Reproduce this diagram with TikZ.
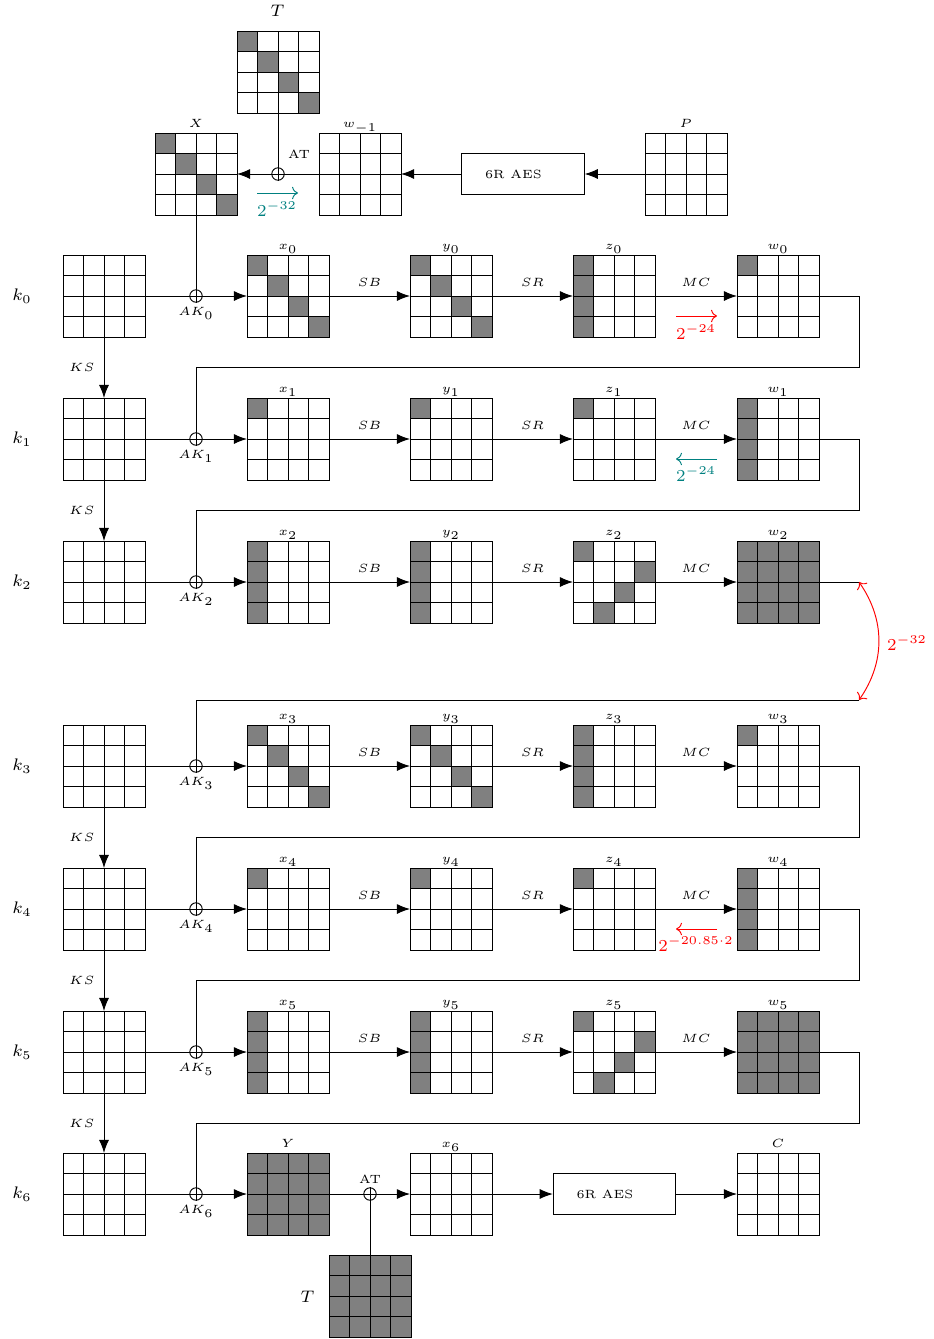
\documentclass[tikz,border=0pt]{standalone}
\usetikzlibrary{arrows.meta,calc}
\makeatletter
\newcommand\stgrid[5]{%
  \node[gridbox] (#1) at (#2,#3) {};
  \def\st@cells{#4}\def\st@full{full}%
  \ifx\st@cells\st@full
    \fill[cellfill] (#1.north west) rectangle (#1.south east);
  \else\ifx\st@cells\@empty\else
    \foreach \cc/\rr in {#4} {\fill[cellfill] (#2-41+20.5*\cc,#3-41+20.5*\rr) rectangle ++(20.5,20.5);}
  \fi\fi
  \foreach \ii in {1,2,3} {\draw[gl] (#2-41+20.5*\ii,#3-41) -- ++(0,82); \draw[gl] (#2-41,#3-41+20.5*\ii) -- ++(82,0);}
  \draw[gl] (#1.north west) rectangle (#1.south east);
  \if\relax\detokenize{#5}\relax\else
    \node[lab,anchor=base] (#1-l) at (#2,#3-46.5) {#5};
  \fi
}
\newcommand\stround[6]{%
  \stgrid{k#1}{104}{#2}{}{}
  \node[klab] (k#1-l) at (22,#2) {$k_{#1}$};
  \stgrid{x#1}{288}{#2}{#3}{$x_{#1}$}
  \stgrid{y#1}{451}{#2}{#4}{$y_{#1}$}
  \stgrid{z#1}{614}{#2}{#5}{$z_{#1}$}
  \stgrid{w#1}{778}{#2}{#6}{$w_{#1}$}
  \node[xorn] (ak#1) at (196,#2) {};
  \node[lab,anchor=base] (ak#1-l) at (196,#2+19.5) {$AK_{#1}$};
  \draw[arr] (k#1.east) -- (x#1.west);
  \draw[arr] (x#1.east) -- node[lab,anchor=base,yshift=3.8pt]{$SB$} (y#1.west);
  \draw[arr] (y#1.east) -- node[lab,anchor=base,yshift=3.8pt]{$SR$} (z#1.west);
  \draw[arr] (z#1.east) -- node[lab,anchor=base,yshift=3.8pt]{$MC$} (w#1.west);
}
\makeatother
\begin{document}
\begin{tikzpicture}[x=0.4184pt,y=-0.4184pt,
  gridbox/.style={rectangle,draw=none,minimum size=34.31pt,inner sep=0pt,outer sep=0pt},
  gl/.style={line width=0.4pt},
  cellfill/.style={fill=black!50},
  lab/.style={font=\tiny,inner sep=0pt},
  klab/.style={font=\scriptsize,inner sep=0pt},
  arr/.style={line width=0.4pt,-{Latex[length=5.5pt,width=4.2pt]}},
  xorn/.style={circle,draw,line width=0.4pt,minimum size=5.2pt,inner sep=0pt},
  aesbox/.style={draw,line width=0.4pt,minimum width=51.2pt,minimum height=16.9pt,inner sep=0pt,font=\tiny},
  prob/.style={font=\scriptsize,inner sep=0pt},
]
\useasboundingbox (0,0) rectangle (933,1339);

% ---------- top part ----------
\stgrid{T0}{278}{72}{0/0,1/1,2/2,3/3}{}
\node[klab] (T0-l) at (277.5,10.5) {$T$};
\stgrid{X}{196}{174}{0/0,1/1,2/2,3/3}{$X$}
\stgrid{wm1}{360}{174}{}{$w_{-1}$}
\stgrid{P}{686}{174}{}{$P$}
\node[aesbox] (aes0) at (523,174) {6R AES\hspace*{8pt}};
\node[xorn] (at0) at (278,174) {};
\node[lab,anchor=base] (at0-l) at (299,158) {AT};
\draw[arr] (P.west) -- (aes0.east);
\draw[arr] (aes0.west) -- (wm1.east);
\draw[arr] (wm1.west) -- (X.east);
\draw[gl] (T0.south) -- (at0.south);
\draw[teal,->] (257,193) -- (298,193);
\node[prob,text=teal] (p0) at (277,209) {$2^{-32}$};

% ---------- rounds ----------
\stround{0}{296}{0/0,1/1,2/2,3/3}{0/0,1/1,2/2,3/3}{0/0,0/1,0/2,0/3}{0/0}
\stround{1}{439}{0/0}{0/0}{0/0}{0/0,0/1,0/2,0/3}
\stround{2}{582}{0/0,0/1,0/2,0/3}{0/0,0/1,0/2,0/3}{0/0,3/1,2/2,1/3}{full}
\stround{3}{766}{0/0,1/1,2/2,3/3}{0/0,1/1,2/2,3/3}{0/0,0/1,0/2,0/3}{0/0}
\stround{4}{909}{0/0}{0/0}{0/0}{0/0,0/1,0/2,0/3}
\stround{5}{1052}{0/0,0/1,0/2,0/3}{0/0,0/1,0/2,0/3}{0/0,3/1,2/2,1/3}{full}

% ---------- last round ----------
\stgrid{k6}{104}{1194}{}{}
\node[klab] (k6-l) at (22,1194) {$k_{6}$};
\node[xorn] (ak6) at (196,1194) {};
\node[lab,anchor=base] (ak6-l) at (196,1213.5) {$AK_{6}$};
\stgrid{Y}{288}{1194}{full}{$Y$}
\node[xorn] (at1) at (370,1194) {};
\node[lab,anchor=base] (at1-l) at (370,1183) {AT};
\stgrid{x6}{451}{1194}{}{$x_6$}
\node[aesbox] (aes1) at (614.5,1194) {6R AES\hspace*{8pt}};
\stgrid{C}{778}{1194}{}{$C$}
\stgrid{T1}{370}{1296}{full}{}
\node[klab] (T1-l) at (307.5,1297) {$T$};
\draw[arr] (k6.east) -- (Y.west);
\draw[arr] (Y.east) -- (x6.west);
\draw[arr] (x6.east) -- (aes1.west);
\draw[arr] (aes1.east) -- (C.west);
\draw[gl] (at1.north) -- (T1.north);

\draw[gl] (X.south) -- (ak0.south);

% key schedule
\draw[arr] (k0.south) -- node[lab,anchor=east,xshift=-3.8pt]{$KS$} (k1.north);
\draw[arr] (k1.south) -- node[lab,anchor=east,xshift=-3.8pt]{$KS$} (k2.north);
\draw[arr] (k3.south) -- node[lab,anchor=east,xshift=-3.8pt]{$KS$} (k4.north);
\draw[arr] (k4.south) -- node[lab,anchor=east,xshift=-3.8pt]{$KS$} (k5.north);
\draw[arr] (k5.south) -- node[lab,anchor=east,xshift=-3.8pt]{$KS$} (k6.north);

% feedback lines
\coordinate (fb0) at (859,367.5);
\coordinate (fb1) at (859,510.5);
\coordinate (e2) at (859,582);
\coordinate (s3) at (859,700);
\coordinate (fb3) at (859,837.5);
\coordinate (fb4) at (859,980.5);
\coordinate (fb5) at (859,1123);
\draw[gl] (w0.east) -| (fb0) -| (ak1.south);
\draw[gl] (w1.east) -| (fb1) -| (ak2.south);
\draw[gl] (w2.east) -- (e2);
\draw[gl] (s3) -| (ak3.south);
\draw[gl] (w3.east) -| (fb3) -| (ak4.south);
\draw[gl] (w4.east) -| (fb4) -| (ak5.south);
\draw[gl] (w5.east) -| (fb5) -| (ak6.south);

\draw[red,<->] (e2) to[bend left=35] (s3);
\node[prob,text=red] (p1) at (907,643) {$2^{-32}$};

% probability arrows
\draw[red,->] (676,316) -- (717,316);
\node[prob,text=red] (p2) at (696,332) {$2^{-24}$};
\draw[teal,->] (717,459) -- (676,459);
\node[prob,text=teal] (p3) at (696,474) {$2^{-24}$};
\draw[red,->] (717,929) -- (676,929);
\node[prob,text=red] (p4) at (696,944) {$2^{-20.85\cdot 2}$};
\end{tikzpicture}
\end{document}
